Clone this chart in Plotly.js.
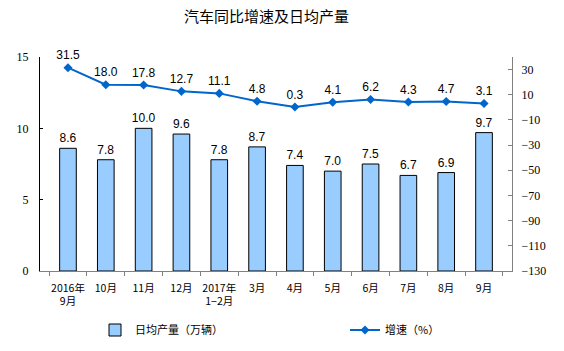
<!DOCTYPE html>
<html><head><meta charset="utf-8">
<script src="https://cdn.plot.ly/plotly-3.0.1.min.js"></script>
<style>html,body{margin:0;padding:0;background:#fff}#c{width:564px;height:351px}</style>
</head><body><div id="c"></div>
<script>
const categories = ["2016年<br>9月","10月","11月","12月","2017年<br>1−2月","3月","4月","5月","6月","7月","8月","9月"];
const dailyOutput = [8.6, 7.8, 10.0, 9.6, 7.8, 8.7, 7.4, 7.0, 7.5, 6.7, 6.9, 9.7];
const growthRate = [31.5, 18.0, 17.8, 12.7, 11.1, 4.8, 0.3, 4.1, 6.2, 4.3, 4.7, 3.1];
const leftTicks = [0, 5, 10, 15];
const rightTicks = [-130, -110, -90, -70, -50, -30, -10, 10, 30];

const cjk = '"Noto Sans CJK SC", "SimSun", sans-serif';
const traces = [
  {type:'bar', x:categories, y:dailyOutput, name:'日均产量（万辆）', legend:'legend',
   marker:{color:'#99CCFF', line:{color:'#000', width:1}}, width:0.44,
   text:dailyOutput.map(v=>v.toFixed(1)), textposition:'outside', cliponaxis:false, constraintext:'none',
   textfont:{family:'"Liberation Sans", Arial', size:12, color:'#000'}},
  {type:'scatter', mode:'lines+markers+text', x:categories, y:growthRate, yaxis:'y2', name:'增速（%）', legend:'legend2',
   line:{color:'#0066CC', width:2}, marker:{symbol:'diamond', size:7, color:'#0066CC'},
   text:growthRate.map(v=>v.toFixed(1)), textposition:'top center', cliponaxis:false,
   textfont:{family:'"Liberation Sans", Arial', size:12, color:'#000'}}
];
const legFont = {family:cjk, size:11, color:'#000'};
const layout = {
  width:564, height:351, margin:{l:40, r:52, t:57, b:80, autoexpand:false},
  paper_bgcolor:'#fff', plot_bgcolor:'#fff',
  title:{text:'汽车同比增速及日均产量', xref:'paper', x:0.48, xanchor:'center', y:0.952, yanchor:'middle', font:{family:cjk, size:15, color:'#000'}},
  showlegend:true, bargap:0.56,
  legend:{xref:'container', yref:'container', x:95/564, y:1-330/351, xanchor:'left', yanchor:'middle', font:legFont, bgcolor:'rgba(0,0,0,0)'},
  legend2:{xref:'container', yref:'container', x:345/564, y:1-330/351, xanchor:'left', yanchor:'middle', font:legFont, bgcolor:'rgba(0,0,0,0)'},
  xaxis:{type:'category', showline:true, linecolor:'#808080', linewidth:1, ticks:'outside', tickson:'boundaries', ticklen:4, tickcolor:'#808080',
    tickfont:{family:cjk, size:10.5, color:'#000'}, showgrid:false, tickangle:0, automargin:false, ticklabelstandoff:7},
  yaxis:{range:[0,15], tickvals:leftTicks, showline:true, linecolor:'#000', linewidth:1, ticks:'inside', ticklen:3, tickcolor:'#000',
    tickfont:{family:'"Liberation Serif", serif', size:12, color:'#000'}, showgrid:false, zeroline:false, ticklabelstandoff:8, automargin:false},
  yaxis2:{range:[-130,40], tickvals:rightTicks, overlaying:'y', side:'right', showline:true, linecolor:'#808080', linewidth:1, ticks:'inside', ticklen:4, tickcolor:'#808080',
    tickfont:{family:'"Liberation Serif", serif', size:12, color:'#000'}, showgrid:false, zeroline:false, ticklabelstandoff:6, automargin:false}
};
Plotly.newPlot('c', traces, layout, {staticPlot:true, displayModeBar:false});
</script></body></html>
